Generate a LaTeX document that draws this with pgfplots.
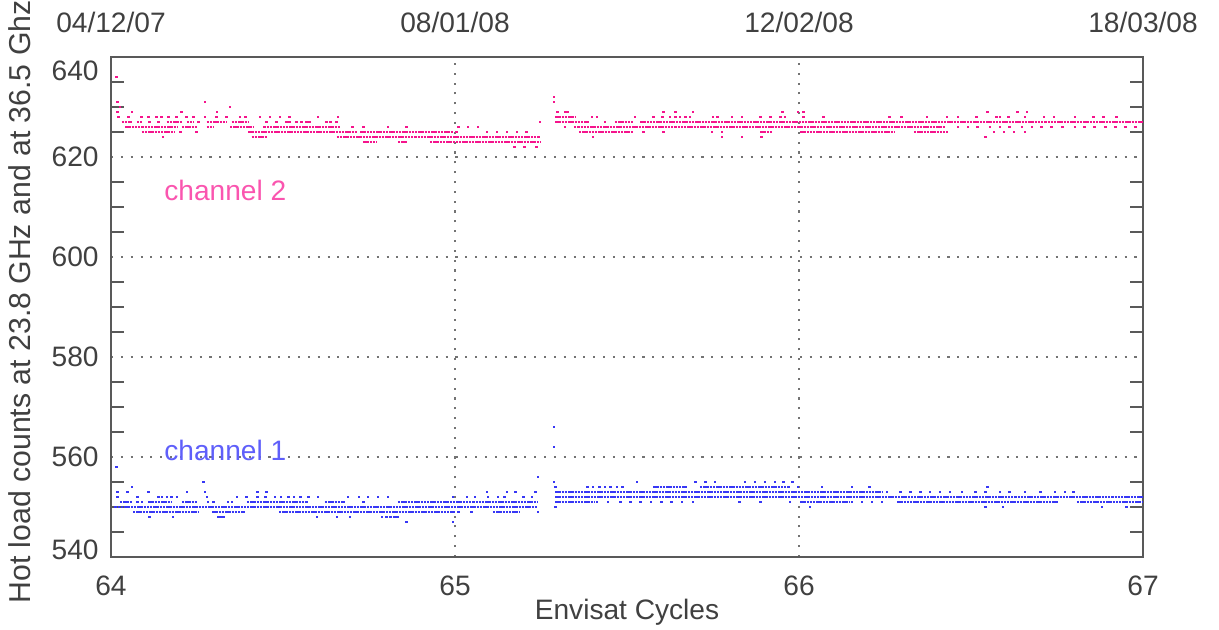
\documentclass[border=0pt]{standalone}
\usepackage{pgfplots}
\pgfplotsset{compat=1.18}
\usepackage{fontspec}
\setmainfont{Liberation Sans}
\definecolor{chtwo}{RGB}{245,20,140}
\definecolor{chone}{RGB}{55,55,245}
\definecolor{chtwotxt}{RGB}{250,85,175}
\definecolor{chonetxt}{RGB}{95,95,250}
\begin{document}
\begin{tikzpicture}
\begin{axis}[
    at={(0,0)}, anchor=south west,
    scale only axis, width=10.32cm, height=5cm,
    xmin=64, xmax=67, ymin=540, ymax=640,
    xtick={64,65,66,67}, ytick={560,580,600,620},
    extra y ticks={540,640},
    extra y tick labels={\raisebox{0pt}[0pt][0pt]{\raisebox{-0.2ex}{540}},\raisebox{0pt}[0pt][0pt]{\raisebox{-1.55ex}{640}}},
    extra y tick style={grid=none},
    minor ytick={545,550,555,565,570,575,585,590,595,605,610,615,625,630,635},
    major tick length=0pt, minor tick length=0.13cm,
    grid=major,
    major grid style={black!55, line width=0.5pt, dash pattern=on 0.6pt off 2.2pt},
    axis line style={black!65, line width=0.6pt},
    tick style={black!65, line width=0.5pt},
    tick label style={font=\fontsize{8}{9}\selectfont, text=black!75},
    /pgf/number format/assume math mode=true,
    xticklabel style={yshift=-0.06cm},
    xlabel={Envisat Cycles},
    xlabel style={at={(axis description cs:0.5,0)}, anchor=center, yshift=-0.55cm,
                  font=\fontsize{8}{9}\selectfont, text=black!75},
    ylabel={Hot load counts at 23.8 GHz and at 36.5 Ghz},
    ylabel style={at={(axis description cs:-0.0882,0.51)}, anchor=center,
                  font=\fontsize{8.6}{10}\selectfont, text=black!75},
    unbounded coords=jump,
    clip mode=individual,
    dense/.style={line width=0.7pt, dash pattern=on 0.7pt off 0.22pt},
    dots/.style={only marks, mark=square*, mark size=0.2pt, mark options={draw=none}},
]
% channel 2 (36.5 GHz): dense runs of equal counts
\addplot[chtwo, dense] coordinates {
(64.031,627) (64.060,627) (64.07,nan) (64.075,627) (64.089,627) (64.1,nan)
(64.162,627) (64.206,627) (64.21,nan) (64.220,627) (64.239,627) (64.25,nan)
(64.278,627) (64.336,627) (64.34,nan) (64.351,627) (64.399,627) (64.4,nan)
(65.291,627) (65.390,627) (65.4,nan) (65.465,627) (65.517,627) (65.52,nan)
(65.538,627) (67.000,627) (67,nan)
(64.041,626) (64.195,626) (64.2,nan) (64.206,626) (64.249,626) (64.25,nan)
(64.278,626) (64.297,626) (64.3,nan) (64.346,626) (64.414,626) (64.42,nan)
(64.443,626) (64.666,626) (64.67,nan) (65.346,626) (66.424,626) (66.43,nan)
(64.089,625) (64.186,625) (64.19,nan) (64.399,625) (64.715,625) (64.72,nan)
(64.724,625) (64.994,625) (65.0,nan) (65.360,625) (65.517,625) (65.52,nan)
(65.887,625) (65.924,625) (65.93,nan) (66.003,625) (66.279,625) (66.28,nan)
(66.334,625) (66.433,625) (66.44,nan)
(64.409,624) (64.453,624) (64.46,nan) (64.656,624) (65.247,624) (65.25,nan)
(64.733,623) (64.773,623) (64.78,nan) (64.834,623) (64.860,623) (64.87,nan)
(64.927,623) (65.247,623) (65.25,nan)
(65.291,628) (65.349,628)
};
% channel 2: scattered counts
\addplot[chtwo, dots] coordinates {
(64.017,636) (64.020,631) (64.273,631) (64.026,630) (64.346,630)
(64.020,629) (64.061,629) (64.206,629) (64.308,629)
(64.021,628) (64.050,628) (64.089,628) (64.108,628) (64.133,628) (64.147,628)
(64.167,628) (64.191,628) (64.220,628) (64.239,628) (64.273,628) (64.307,628)
(64.336,628) (64.375,628) (64.390,628) (64.433,628) (64.462,628) (64.491,628)
(64.520,628) (64.602,628) (64.660,628)
(64.113,627) (64.138,627) (64.254,627) (64.453,627) (64.482,627) (64.511,627)
(64.520,627) (64.540,627) (64.554,627) (64.569,627) (64.578,627) (64.627,627)
(64.637,627) (64.656,627) (65.247,627)
(64.703,626) (64.733,626) (64.805,626) (64.860,626) (65.009,626) (65.038,626) (65.067,626)
(64.201,625) (64.249,625) (65.005,625) (65.093,625) (65.122,625) (65.151,625)
(65.180,625) (65.208,625)
(64.151,624) (65.174,622) (65.203,622) (65.238,622)
(65.288,632) (65.288,631)
(65.297,629) (65.320,629) (65.326,629) (65.605,629) (65.640,629) (65.692,629)
(65.951,629) (65.997,629) (66.012,629) (66.547,629) (66.634,629) (66.663,629)
(65.398,628) (65.413,628) (65.523,628) (65.576,628) (65.602,628) (65.625,628)
(65.640,628) (65.654,628) (65.669,628) (65.683,628) (65.750,628) (65.762,628)
(65.805,628) (65.834,628) (65.887,628) (65.916,628) (65.945,628) (65.959,628)
(66.012,628) (66.070,628) (66.262,628) (66.297,628) (66.372,628) (66.430,628)
(66.462,628) (66.517,628) (66.573,628) (66.584,628) (66.608,628) (66.657,628)
(66.712,628) (66.741,628) (66.802,628) (66.857,628) (66.886,628) (66.924,628)
(65.436,627) (65.320,626)
(66.462,626) (66.491,626) (66.520,626) (66.555,626) (66.584,626) (66.613,626)
(66.648,626) (66.677,626) (66.706,626) (66.735,626) (66.765,626) (66.802,626)
(66.831,626) (66.860,626) (66.890,626) (66.919,626) (66.948,626) (66.977,626)
(65.547,625) (65.605,625) (65.747,625) (65.776,625) (66.567,625) (66.596,625)
(66.625,625) (66.657,625)
(65.401,624) (65.776,624) (65.834,624) (65.892,624) (66.541,624)
};
% channel 1 (23.8 GHz): dense runs
\addplot[chone, dense] coordinates {
(64.010,550) (65.241,550) (65.25,nan)
(64.026,551) (64.061,551) (64.07,nan) (64.108,551) (64.177,551) (64.18,nan)
(64.206,551) (64.250,551) (64.26,nan) (64.395,551) (64.573,551) (64.58,nan)
(64.622,551) (64.680,551) (64.69,nan) (64.834,551) (65.241,551) (65.25,nan)
(65.291,551) (65.407,551) (65.41,nan) (66.003,551) (66.148,551) (66.15,nan)
(66.285,551) (66.753,551) (66.76,nan) (66.808,551) (67.000,551) (67,nan)
(65.291,552) (67.000,552) (67,nan)
(65.291,553) (66.244,553) (66.25,nan)
(65.576,554) (65.674,554) (65.68,nan) (65.712,554) (65.974,554) (65.98,nan)
(64.064,549) (64.256,549) (64.26,nan) (64.294,549) (64.390,549) (64.4,nan)
(64.488,549) (65.000,549) (65.01,nan) (65.110,549) (65.189,549)
};
% channel 1: scattered counts
\addplot[chone, dots] coordinates {
(64.017,558) (65.241,556) (64.270,555) (65.288,555) (64.061,554)
(64.020,553) (64.049,553) (64.108,553) (64.221,553) (64.273,553) (64.427,553)
(64.451,553) (65.093,553) (65.151,553) (65.177,553) (65.235,553)
(64.020,552) (64.078,552) (64.137,552) (64.148,552) (64.163,552) (64.177,552)
(64.192,552) (64.279,552) (64.366,552) (64.395,552) (64.427,552) (64.448,552)
(64.477,552) (64.494,552) (64.515,552) (64.532,552) (64.552,552) (64.573,552)
(64.602,552) (64.689,552) (64.721,552) (64.747,552) (64.776,552) (64.805,552)
(64.994,552) (65.035,552) (65.058,552) (65.096,552) (65.125,552) (65.145,552)
(65.198,552) (65.224,552)
(64.078,551) (64.090,551) (64.282,551) (64.299,551) (64.340,551) (64.352,551) (64.733,551)
(65.009,549) (65.049,549) (65.241,549)
(64.113,548) (64.180,548) (64.311,548) (64.318,548) (64.326,548) (64.599,548)
(64.657,548) (64.695,548) (64.788,548) (64.800,548) (64.812,548) (64.824,548) (64.834,548)
(64.860,547) (64.994,547)
(65.288,566) (65.288,562)
(65.529,555) (65.698,555) (65.727,555) (65.756,555) (65.843,555) (65.872,555)
(65.901,555) (65.930,555) (65.956,555) (65.980,555)
(65.291,554) (65.384,554) (65.401,554) (65.419,554) (65.436,554) (65.453,554)
(65.471,554) (65.488,554) (65.997,554) (66.067,554) (66.154,554) (66.206,554) (66.547,554)
(66.256,553) (66.294,553) (66.323,553) (66.352,553) (66.381,553) (66.410,553)
(66.439,553) (66.474,553) (66.512,553) (66.541,553) (66.584,553) (66.613,553)
(66.657,553) (66.701,553) (66.744,553) (66.773,553) (66.797,553)
(65.413,551) (65.445,551) (65.480,551) (65.510,551) (65.540,551) (65.570,551)
(65.600,551) (65.630,551) (65.660,551) (65.692,551) (65.828,551) (65.887,551)
(65.974,551) (66.154,551) (66.183,551) (66.212,551) (66.241,551)
(65.291,550) (66.032,550) (66.541,550) (66.593,550) (66.881,550) (66.953,550)
};
% channel names
\node[anchor=west, text=chtwotxt, font=\fontsize{8}{9}\selectfont] at (axis cs:64.119,613.4) {channel 2};
\node[anchor=west, text=chonetxt, font=\fontsize{8}{9}\selectfont] at (axis cs:64.119,561.4) {channel 1};
% dates of the cycle starts along the top
\node[text=black!75, font=\fontsize{8}{9}\selectfont, yshift=0.35cm] at (axis cs:64,640) {04/12/07};
\node[text=black!75, font=\fontsize{8}{9}\selectfont, yshift=0.35cm] at (axis cs:65,640) {08/01/08};
\node[text=black!75, font=\fontsize{8}{9}\selectfont, yshift=0.35cm] at (axis cs:66,640) {12/02/08};
\node[text=black!75, font=\fontsize{8}{9}\selectfont, yshift=0.35cm] at (axis cs:67,640) {18/03/08};
\end{axis}
\pgfresetboundingbox
\useasboundingbox (-1.11,-0.73) rectangle (11.08,5.57);
\end{tikzpicture}
\end{document}
